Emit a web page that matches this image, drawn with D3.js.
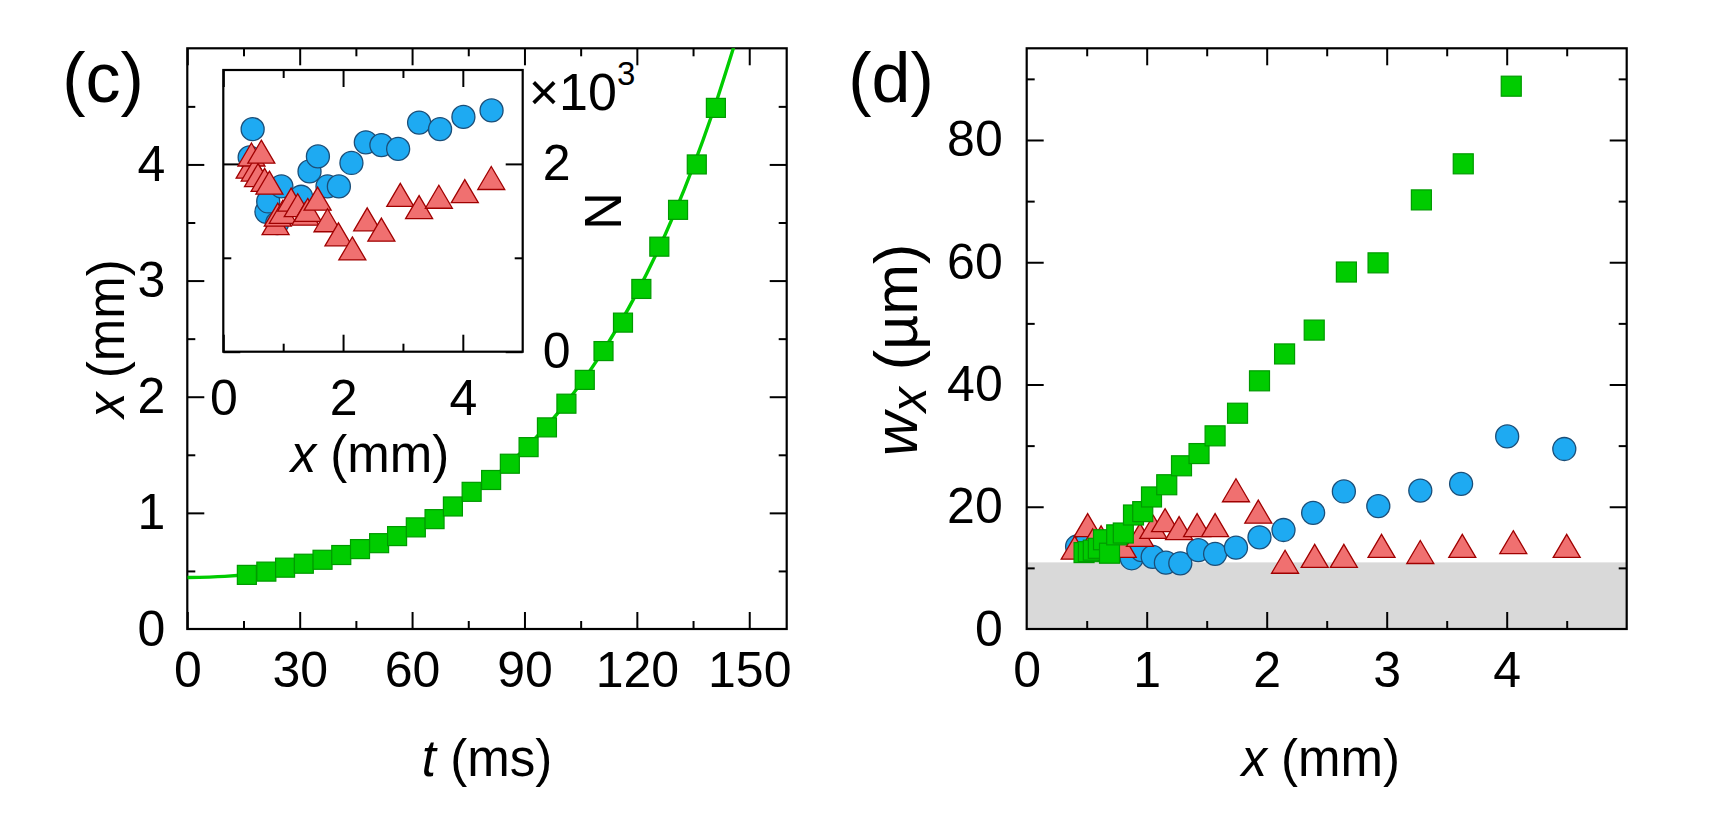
<!DOCTYPE html>
<html><head><meta charset="utf-8">
<script src="https://cdn.jsdelivr.net/npm/d3@7"></script>
<style>
body{margin:0;background:#fff;}
svg{display:block;font-family:"Liberation Sans",Arial,sans-serif;}
</style></head><body>
<svg id="chart" width="1713" height="828"></svg>
<script>
// ---------- Panel (c): position x (mm) vs time t (ms), green squares ----------
const cTime = [15.9,21.1,26.1,31.1,36.1,41.1,46.1,51.2,56.0,61.0,66.0,70.9,75.9,81.1,86.1,91.1,96.0,101.2,106.1,111.1,116.3,121.2,126.0,131.0,136.0,141.1];
const cPos  = [0.466,0.494,0.528,0.562,0.596,0.637,0.688,0.739,0.800,0.875,0.946,1.055,1.181,1.283,1.423,1.566,1.736,1.940,2.145,2.393,2.638,2.928,3.292,3.609,4.000,4.487];
// fitted curve
const fitTime = [0,10,20,30,40,50,60,70,80,90,100,110,120,130,140,147];
const fitPos  = [0.443,0.453,0.484,0.536,0.615,0.722,0.861,1.039,1.264,1.547,1.902,2.345,2.894,3.576,4.423,5.13];
const cXTicks = [0,30,60,90,120,150];
const cXMinor = [15,45,75,105,135];
const cYTicks = [0,1,2,3,4];
const cYMinor = [0.5,1.5,2.5,3.5,4.5];

// ---------- Inset: atom number N (x10^3) vs x (mm) ----------
const inBlueX = [0.44,0.49,0.72,0.75,0.90,0.97,1.30,1.44,1.58,1.74,1.93,2.14,2.38,2.64,2.92,3.27,3.62,4.01,4.48];
const inBlueN = [2.07,2.37,1.49,1.60,1.37,1.76,1.65,1.92,2.08,1.76,1.76,2.01,2.23,2.20,2.16,2.44,2.37,2.50,2.57];
const inRedX  = [0.44,0.47,0.525,0.58,0.635,0.69,0.77,0.873,0.91,0.994,1.133,1.243,1.37,1.41,1.575,1.74,1.923,2.155,2.403,2.64,2.956,3.27,3.60,4.033,4.475];
const inRedN  = [1.97,2.10,1.94,1.88,2.13,1.83,1.80,1.37,1.46,1.49,1.62,1.56,1.47,1.51,1.63,1.40,1.25,1.10,1.41,1.30,1.67,1.54,1.65,1.71,1.85];
const inXTicks = [0,2,4];
const inXMinor = [1,3];
const inYTicks = [0,2];
const inYMinor = [1];

// ---------- Panel (d): width w_x (um) vs x (mm) ----------
const dGreenX = [0.478,0.514,0.555,0.597,0.640,0.690,0.750,0.805,0.890,0.967,1.040,1.167,1.290,1.436,1.570,1.757,1.940,2.149,2.396,2.664,2.928,3.289,3.638,4.038];
const dGreenW = [12.5,12.65,12.9,13.2,14.6,12.4,15.4,15.7,18.65,19.2,21.6,23.6,26.7,28.7,31.6,35.3,40.6,45.0,48.9,58.4,59.9,70.2,76.1,88.8];
const dBlueX  = [0.42,0.48,0.875,0.958,1.05,1.16,1.28,1.43,1.57,1.744,1.94,2.14,2.387,2.643,2.93,3.28,3.62,4.004,4.48];
const dBlueW  = [13.5,13.6,11.57,12.9,11.8,10.85,10.75,12.9,12.3,13.3,15.0,16.2,19.0,22.5,20.1,22.65,23.75,31.5,29.45];
const dRedX   = [0.40,0.508,0.55,0.62,0.70,0.80,0.944,1.055,1.153,1.27,1.42,1.57,1.744,1.93,2.153,2.40,2.643,2.957,3.28,3.63,4.055,4.50];
const dRedW   = [13.3,17.0,14.5,15.0,14.8,13.6,15.4,16.7,17.8,16.5,17.0,17.0,22.7,19.2,11.0,11.97,11.97,13.6,12.6,13.6,14.2,13.6];
const dShade  = 10.9;   // resolution limit band
const dXTicks = [0,1,2,3,4];
const dXMinor = [0.5,1.5,2.5,3.5,4.5];
const dYTicks = [0,20,40,60,80];
const dYMinor = [10,30,50,70,90];

// ---------- styles ----------
const GREEN = "#00cc00", GREEN_S = "#009a00";
const BLUE = "#1eaaf2", BLUE_S = "#1b4e78";
const RED = "#f07070", RED_S = "#a00000";
const FS = 50;
const fmt = d3.format("d");

const svg = d3.select("#chart");

function triPath(w,h){ return `M0,${-h/2}L${w/2},${h/2}L${-w/2},${h/2}Z`; }
function styleAxis(gr){
  gr.select(".domain").remove();
  gr.selectAll("line").attr("stroke","#000").attr("stroke-width",2);
  gr.attr("font-size",FS).attr("font-family",null).selectAll("text").attr("fill","#000");
}

function drawAxes(g, x, y, W, H, o){
  const mk = (gen, vals, size, labels, pad) => {
    const a = gen.tickValues(vals).tickSizeInner(-size).tickSizeOuter(0).tickPadding(pad);
    a.tickFormat(labels ? fmt : () => "");
    return a;
  };
  const groups = [];
  groups.push(g.append("g").attr("transform",`translate(0,${H})`).call(mk(d3.axisBottom(x), o.xMajor, 17, o.xLabels, o.xPad)));
  groups.push(g.append("g").attr("transform",`translate(0,${H})`).call(mk(d3.axisBottom(x), o.xMinor, 8, false, 0)));
  groups.push(g.append("g").call(mk(d3.axisTop(x), o.xMajor, 17, false, 0)));
  groups.push(g.append("g").call(mk(d3.axisTop(x), o.xMinor, 8, false, 0)));
  groups.push(g.append("g").call(mk(d3.axisLeft(y), o.yMajor, 17, o.yLeftLabels, o.yPad)));
  groups.push(g.append("g").call(mk(d3.axisLeft(y), o.yMinor, 8, false, 0)));
  groups.push(g.append("g").attr("transform",`translate(${W},0)`).call(mk(d3.axisRight(y), o.yMajor, 17, o.yRightLabels, o.yPad)));
  groups.push(g.append("g").attr("transform",`translate(${W},0)`).call(mk(d3.axisRight(y), o.yMinor, 8, false, 0)));
  groups.forEach(styleAxis);
  g.append("rect").attr("width",W).attr("height",H).attr("fill","none").attr("stroke","#000").attr("stroke-width",2.2);
}

// ================= Panel (c) =================
const cL = 187.3, cT = 48.3, cW = 599.4, cH = 580.7;
const gc = svg.append("g").attr("transform",`translate(${cL},${cT})`);
const xc = d3.scaleLinear().domain([0,160]).range([0,cW]);
const yc = d3.scaleLinear().domain([0,5]).range([cH,0]);
gc.append("clipPath").attr("id","clipc").append("rect").attr("width",cW).attr("height",cH);

const iL = 223.3 - cL, iT = 70 - cT, iW = 299.4, iH = 281.7;
const xi = d3.scaleLinear().domain([0,5]).range([0,iW]);
const yi = d3.scaleLinear().domain([0,3]).range([iH,0]);

drawAxes(gc, xc, yc, cW, cH, {xMajor:cXTicks, xMinor:cXMinor, yMajor:cYTicks.slice(1), yMinor:cYMinor,
  xLabels:true, yLeftLabels:false, yRightLabels:false, xPad:22, yPad:22});
gc.append("g").call(d3.axisLeft(yc).tickValues(cYTicks).tickFormat(fmt).tickSize(0).tickPadding(22)).call(styleAxis);

// fit curve
const line = d3.line().x((d,i)=>xc(fitTime[i])).y((d,i)=>yc(fitPos[i])).curve(d3.curveMonotoneX);
gc.append("path").datum(fitTime).attr("d",line).attr("fill","none").attr("stroke",GREEN).attr("stroke-width",3.4).attr("clip-path","url(#clipc)");

// inset
const gi = gc.append("g").attr("transform",`translate(${iL},${iT})`);
gi.append("rect").attr("width",iW).attr("height",iH).attr("fill","#fff");
drawAxes(gi, xi, yi, iW, iH, {xMajor:inXTicks, xMinor:inXMinor, yMajor:inYTicks, yMinor:inYMinor,
  xLabels:true, yLeftLabels:false, yRightLabels:true, xPad:28, yPad:20});

gi.selectAll("circle.b").data(inBlueX).join("circle").attr("class","b")
  .attr("cx",d=>xi(d)).attr("cy",(d,i)=>yi(inBlueN[i])).attr("r",11.5)
  .attr("fill",BLUE).attr("stroke",BLUE_S).attr("stroke-width",1.3);
gi.selectAll("path.r").data(inRedX).join("path").attr("class","r")
  .attr("transform",(d,i)=>`translate(${xi(d)},${yi(inRedN[i])})`).attr("d",triPath(27,23))
  .attr("fill",RED).attr("stroke",RED_S).attr("stroke-width",1.3);

gi.append("text").attr("x",iW+6).attr("y",40).attr("font-size",52)
  .html('\u00d710<tspan font-size="33" dy="-25">3</tspan>');
gi.append("text").attr("transform",`translate(${iW+80},${141}) rotate(90)`).attr("text-anchor","middle")
  .attr("dominant-baseline","central").attr("font-size",52).text("N");
gi.append("text").attr("x",iW/2-3).attr("y",iH+120).attr("text-anchor","middle").attr("font-size",51)
  .html('<tspan font-style="italic">x</tspan> (mm)');

gc.selectAll("rect.sq").data(cTime).join("rect").attr("class","sq")
  .attr("x",d=>xc(d)-9.5).attr("y",(d,i)=>yc(cPos[i])-9.5).attr("width",19).attr("height",19)
  .attr("fill",GREEN).attr("stroke",GREEN_S).attr("stroke-width",1.2);

svg.append("text").attr("x",103).attr("y",102).attr("text-anchor","middle").attr("font-size",70).text("(c)");
svg.append("text").attr("x",cL+cW/2).attr("y",776).attr("text-anchor","middle").attr("font-size",51)
  .html('<tspan font-style="italic">t</tspan> (ms)');
svg.append("text").attr("transform",`translate(124,${cT+cH/2}) rotate(-90)`).attr("text-anchor","middle").attr("font-size",51)
  .html('<tspan font-style="italic">x</tspan> (mm)');

// ================= Panel (d) =================
const dL = 1026.7, dT = 48.3, dW = 600, dH = 580.7;
const gd = svg.append("g").attr("transform",`translate(${dL},${dT})`);
const xd = d3.scaleLinear().domain([0,5]).range([0,dW]);
const yd = d3.scaleLinear().domain([0,95]).range([dH,0]);
gd.append("rect").attr("x",0).attr("y",yd(dShade)).attr("width",dW).attr("height",dH-yd(dShade)).attr("fill","#d9d9d9");

drawAxes(gd, xd, yd, dW, dH, {xMajor:dXTicks.slice(1), xMinor:dXMinor, yMajor:dYTicks.slice(1), yMinor:dYMinor,
  xLabels:true, yLeftLabels:true, yRightLabels:false, xPad:22, yPad:24});
gd.append("g").attr("transform",`translate(0,${dH})`).call(d3.axisBottom(xd).tickValues([0]).tickFormat(fmt).tickSize(0).tickPadding(22)).call(styleAxis);
gd.append("g").call(d3.axisLeft(yd).tickValues([0]).tickFormat(fmt).tickSize(0).tickPadding(24)).call(styleAxis);

gd.selectAll("circle.b").data(dBlueX).join("circle").attr("class","b")
  .attr("cx",d=>xd(d)).attr("cy",(d,i)=>yd(dBlueW[i])).attr("r",11.5)
  .attr("fill",BLUE).attr("stroke",BLUE_S).attr("stroke-width",1.3);
gd.selectAll("path.r").data(dRedX).join("path").attr("class","r")
  .attr("transform",(d,i)=>`translate(${xd(d)},${yd(dRedW[i])})`).attr("d",triPath(27,23))
  .attr("fill",RED).attr("stroke",RED_S).attr("stroke-width",1.3);
gd.selectAll("rect.sq").data(dGreenX).join("rect").attr("class","sq")
  .attr("x",d=>xd(d)-10).attr("y",(d,i)=>yd(dGreenW[i])-10).attr("width",20).attr("height",20)
  .attr("fill",GREEN).attr("stroke",GREEN_S).attr("stroke-width",1.2);

svg.append("text").attr("x",891).attr("y",102).attr("text-anchor","middle").attr("font-size",70).text("(d)");
svg.append("text").attr("x",dL+dW/2-6).attr("y",776).attr("text-anchor","middle").attr("font-size",51)
  .html('<tspan font-style="italic">x</tspan> (mm)');
svg.append("text").attr("transform",`translate(917,350) rotate(-90)`).attr("text-anchor","middle").attr("font-size",61)
  .html('<tspan font-style="italic">w</tspan><tspan font-style="italic" font-size="50" dy="9">x</tspan><tspan dy="-9"> (\u00b5m)</tspan>');
</script>
</body></html>
